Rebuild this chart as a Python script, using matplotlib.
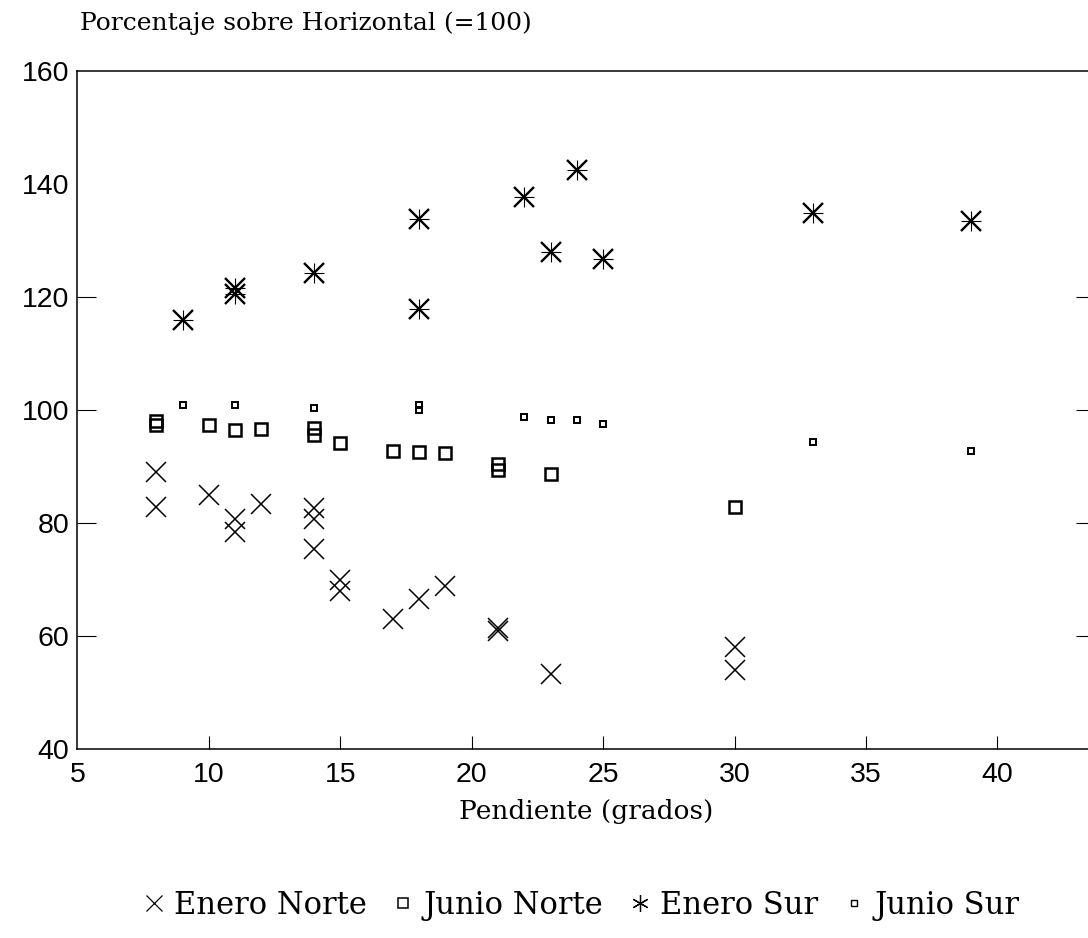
import matplotlib
matplotlib.use("Agg")
import matplotlib.pyplot as plt
from matplotlib.lines import Line2D

# ---- data (slope in degrees, percentage over horizontal) ----
enero_norte_x = [8, 8, 10, 11, 11, 12, 14, 14, 14, 15, 15, 17, 18, 19, 21, 21, 23, 30, 30]
enero_norte_y = [89.0, 82.8, 84.9, 80.7, 78.4, 83.4, 82.7, 80.7, 75.5, 70.0, 68.0,
                 63.1, 66.6, 68.8, 61.4, 61.0, 53.4, 58.0, 54.0]

junio_norte_x = [8, 8, 10, 11, 12, 14, 14, 15, 17, 18, 19, 21, 21, 23, 30]
junio_norte_y = [98.1, 97.4, 97.4, 96.5, 96.6, 96.9, 95.5, 94.2, 92.8, 92.6, 92.4,
                 90.5, 89.4, 88.6, 82.9]

enero_sur_x = [9, 11, 11, 14, 18, 18, 22, 23, 24, 25, 33, 39]
enero_sur_y = [116.0, 121.5, 120.5, 124.2, 133.7, 117.8, 137.7, 128.0, 142.4, 126.7,
               134.8, 133.4]

junio_sur_x = [9, 11, 14, 18, 18, 22, 23, 24, 25, 33, 39]
junio_sur_y = [100.8, 100.8, 100.3, 100.9, 100.0, 98.8, 98.2, 98.2, 97.5, 94.4, 92.8]

x_ticks = [5, 10, 15, 20, 25, 30, 35, 40]
y_ticks = [40, 60, 80, 100, 120, 140, 160]

labels = ["Enero Norte", "Junio Norte", "Enero Sur", "Junio Sur"]

# ---- figure ----
fig = plt.figure(figsize=(10.88, 9.38), dpi=100)
ax = fig.add_axes([0.0712, 0.2012, 0.935, 0.7234])

num_font = ["Liberation Sans"]
serif_font = ["DejaVu Serif"]

ax.plot(enero_norte_x, enero_norte_y, linestyle="none", marker="x", ms=15,
        mew=1.1, color="black")
ax.plot(junio_norte_x, junio_norte_y, linestyle="none", marker="s", ms=8.2,
        mew=1.8, mfc="none", mec="black")
ax.plot(enero_sur_x, enero_sur_y, linestyle="none", marker="x", ms=14.5,
        mew=1.7, color="black")
ax.plot(enero_sur_x, enero_sur_y, linestyle="none", marker="+", ms=14,
        mew=0.8, color="black")
ax.plot(junio_sur_x, junio_sur_y, linestyle="none", marker="s", ms=3.8,
        mew=1.4, mfc="none", mec="black")

ax.set_xlim(5, 43.7)
ax.set_ylim(40, 160)
ax.set_xticks(x_ticks)
ax.set_yticks(y_ticks)
ax.set_xticklabels([str(v) for v in x_ticks], family=num_font, fontsize=20.5)
ax.set_yticklabels([str(v) for v in y_ticks], family=num_font, fontsize=20.5)

ax.tick_params(axis="x", direction="in", length=9.5, width=0.8, pad=9,
               top=False, bottom=True)
ax.tick_params(axis="y", direction="in", length=14, width=0.8, pad=6,
               left=True, right=True)
for t in ax.xaxis.get_major_ticks():
    if t.get_loc() == 5:
        t.tick1line.set_visible(False)
for t in ax.yaxis.get_major_ticks():
    if t.get_loc() in (40, 140, 160):
        t.tick1line.set_visible(False)
        t.tick2line.set_visible(False)

for s in ax.spines.values():
    s.set_linewidth(1.1)

ax.set_xlabel("Pendiente (grados)", family=serif_font, fontsize=19, labelpad=8)
fig.text(0.0735, 0.975, "Porcentaje sobre Horizontal (=100)", family=serif_font,
         fontsize=18, ha="left", va="center")

handles = [
    Line2D([], [], linestyle="none", marker="x", ms=11, mew=0.9, color="black"),
    Line2D([], [], linestyle="none", marker="s", ms=6.5, mew=1.1, mfc="none", mec="black"),
    Line2D([], [], linestyle="none", marker=(6, 2, 0), ms=12, mew=0.9, color="black"),
    Line2D([], [], linestyle="none", marker="s", ms=4, mew=1.0, mfc="none", mec="black"),
]
fig.legend(handles, labels, loc="center", bbox_to_anchor=(0.535, 0.035), ncol=4,
           frameon=False, prop={"family": serif_font, "size": 22},
           handlelength=0.6, handletextpad=0.35, columnspacing=0.9)

fig.savefig("out.png", dpi=100)
